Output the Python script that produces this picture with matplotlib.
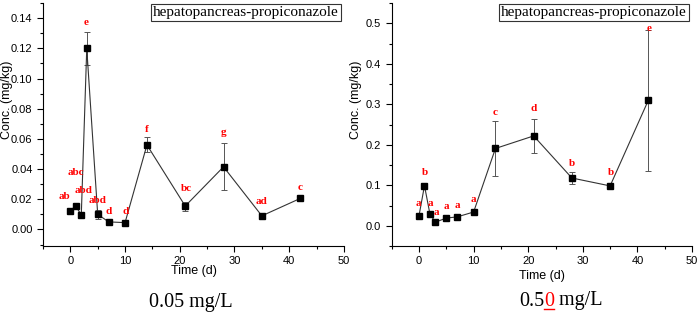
import matplotlib
matplotlib.use("Agg")
from matplotlib import pyplot as plt
from matplotlib.ticker import MultipleLocator, FormatStrFormatter

plt.rcParams['font.family'] = ['Liberation Sans', 'DejaVu Sans']

days = [0, 1, 2, 3, 5, 7, 10, 14, 21, 28, 35, 42]

low_conc = [0.0125, 0.0155, 0.0095, 0.120, 0.010, 0.005, 0.0045, 0.056, 0.0155, 0.0415, 0.009, 0.0205]
low_err = [0.001, 0.0015, 0.001, 0.011, 0.003, 0.0005, 0.0005, 0.005, 0.003, 0.0155, 0.0008, 0.0012]
low_letters = ['ab', 'abc', 'abd', 'e', 'abd', 'd', 'd', 'f', 'bc', 'g', 'ad', 'c']
low_label_x = [-1.0, 1.0, 2.4, 2.8, 4.9, 7.0, 10.1, 14.0, 21.2, 28.0, 35.0, 42.0]
low_label_y = [0.022, 0.038, 0.026, 0.137, 0.019, 0.0117, 0.0117, 0.066, 0.027, 0.0643, 0.0185, 0.028]

high_conc = [0.025, 0.099, 0.029, 0.009, 0.019, 0.022, 0.034, 0.191, 0.222, 0.118, 0.0985, 0.31]
high_err = [0.003, 0.006, 0.003, 0.002, 0.003, 0.003, 0.006, 0.068, 0.042, 0.016, 0.004, 0.174]
high_letters = ['a', 'b', 'a', 'a', 'a', 'a', 'a', 'c', 'd', 'b', 'b', 'e']
high_label_x = [-0.1, 1.0, 2.0, 3.2, 5.0, 7.1, 10.0, 14.0, 21.0, 28.0, 35.1, 42.1]
high_label_y = [0.056, 0.131, 0.056, 0.033, 0.047, 0.051, 0.065, 0.28, 0.289, 0.154, 0.131, 0.487]

panel_title = 'hepatopancreas-propiconazole'

fig = plt.figure(figsize=(6.99, 3.13), dpi=100)
ax1 = fig.add_axes([0.0615, 0.214, 0.4305, 0.776])
ax2 = fig.add_axes([0.5604, 0.214, 0.4296, 0.776])


def draw_panel(ax, conc, err, letters, lx, ly, ylim, major, minor, xlab_y):
    ax.errorbar(days, conc, yerr=err, color='#333333', lw=0.8, ecolor='#555555',
                elinewidth=0.7, capsize=2.5, capthick=0.7, marker='s',
                markersize=5, markerfacecolor='black', markeredgecolor='black')
    for t, x, y in zip(letters, lx, ly):
        ax.text(x, y, t, color='red', fontsize=8, fontweight='bold',
                family='Liberation Serif', ha='center', va='center')
    ax.set_xlim(-5, 50)
    ax.set_ylim(*ylim)
    ax.xaxis.set_major_locator(MultipleLocator(10))
    ax.xaxis.set_minor_locator(MultipleLocator(5))
    ax.yaxis.set_major_locator(MultipleLocator(major))
    ax.yaxis.set_minor_locator(MultipleLocator(minor))
    ax.spines['top'].set_visible(False)
    ax.spines['right'].set_visible(False)
    ax.tick_params(which='major', direction='out', length=4, width=0.8, labelsize=8)
    ax.tick_params(which='minor', direction='out', length=2, width=0.8)
    ax.set_xlabel('Time (d)', fontsize=9)
    ax.set_ylabel('Conc. (mg/kg)', fontsize=9)
    ax.yaxis.set_label_coords(-0.1, 0.6)
    ax.xaxis.set_label_coords(0.5, xlab_y)
    ax.text(0.983, 0.988, panel_title, transform=ax.transAxes, ha='right', va='top',
            family='Liberation Serif', fontsize=11,
            bbox=dict(boxstyle='square,pad=0.12', fc='white', ec='#333333', lw=0.8))


draw_panel(ax1, low_conc, low_err, low_letters, low_label_x, low_label_y,
           (-0.011, 0.15), 0.02, 0.01, -0.078)
draw_panel(ax2, high_conc, high_err, high_letters, high_label_x, high_label_y,
           (-0.05, 0.55), 0.1, 0.05, -0.10)
ax1.yaxis.set_major_formatter(FormatStrFormatter('%.2f'))
ax2.yaxis.set_major_formatter(FormatStrFormatter('%.1f'))

# captions under each panel
cap_kw = dict(family='Liberation Serif', fontsize=14.5, va='center')
fig.text(191 / 699, 1 - 302 / 313, '0.05 mg/L', ha='center', **cap_kw)

parts = [('0.5', 'black'), ('0', 'red'), (' mg/L', 'black')]
fig.canvas.draw()
renderer = fig.canvas.get_renderer()
widths = []
for s, c in parts:
    t = fig.text(0, 0, s, **cap_kw)
    widths.append(t.get_window_extent(renderer).width)
    t.remove()
total = sum(widths)
x = 561 - total / 2
ybase = 1 - 301 / 313
for (s, c), w in zip(parts, widths):
    fig.text(x / 699, ybase, s, color=c, ha='left', **cap_kw)
    if c == 'red':
        fig.add_artist(plt.Line2D([x / 699, (x + w) / 699], [ybase - 8 / 313, ybase - 8 / 313],
                                  color='red', lw=1.0, transform=fig.transFigure))
    x += w

fig.savefig('out.png', dpi=100)
